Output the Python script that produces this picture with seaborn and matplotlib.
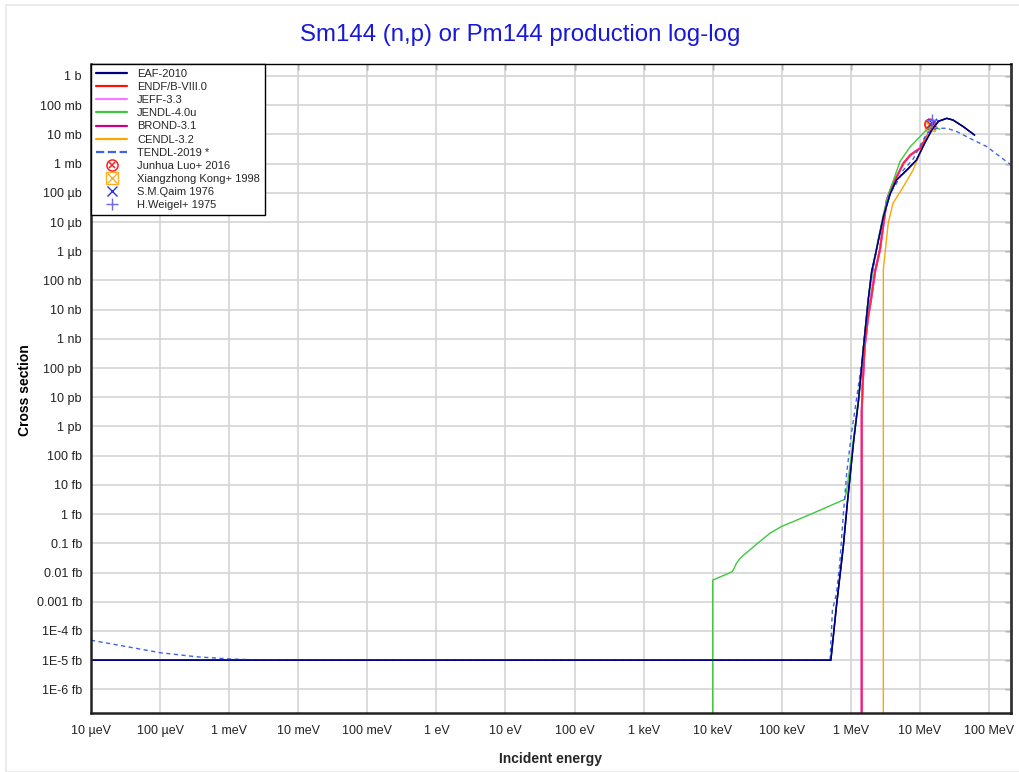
import matplotlib
matplotlib.use("Agg")
import matplotlib.pyplot as plt
from matplotlib.lines import Line2D
from matplotlib.patches import Rectangle
import seaborn as sns
import numpy as np
import pandas as pd

# ---------------- data (energies in eV, cross sections in barns) ----------------
eaf_E = [1e-5, 5.13e5, 6.17e5, 7.76e5, 8.91e5, 1.10e6, 1.29e6, 1.51e6, 1.78e6, 2.0e6,
         2.34e6, 2.95e6, 3.72e6, 4.57e6, 6.46e6, 8.91e6, 1.17e7, 1.48e7, 1.86e7, 2.45e7,
         3.02e7, 4.27e7, 6.17e7]
eaf_sigma = [1e-20, 1e-20, 6.8e-19, 7.6e-17, 2.5e-15, 3.4e-13, 7.9e-12, 4.2e-10, 2.1e-8, 2.0e-7,
             1.1e-6, 1.5e-5, 9.5e-5, 2.75e-4, 6.0e-4, 1.32e-3, 5.0e-3, 0.0141, 0.0282, 0.0355,
             0.0309, 0.0182, 9.5e-3]

endf_E = [1.435e6, 1.436e6, 1.48e6, 1.585e6, 1.78e6, 1.95e6, 2.24e6, 2.63e6, 3.31e6, 3.89e6,
          4.90e6, 5.75e6, 7.24e6, 8.51e6, 1.0e7, 1.26e7, 1.41e7, 1.58e7]
endf_sigma = [1e-30, 3.2e-12, 2.5e-11, 5.4e-10, 5.8e-9, 2.1e-8, 2.0e-7, 1.1e-6, 5.6e-5, 1.62e-4,
              4.7e-4, 1.02e-3, 1.95e-3, 2.57e-3, 3.3e-3, 8.3e-3, 0.0141, 0.0191]

# JEFF-3.3 and BROND-3.1 coincide with ENDF/B-VIII.0 on this scale
jeff_E, jeff_sigma = endf_E, endf_sigma
brond_E, brond_sigma = endf_E, endf_sigma

jendl_E = [1e4, 1.0001e4, 1.9e4, 2.0e4, 2.19e4, 2.45e4, 2.88e4, 3.47e4, 4.47e4, 6.76e4,
           1.0e5, 1.48e5, 3.16e5, 8.13e5, 8.71e5, 1.10e6, 1.29e6, 1.51e6, 1.78e6, 2.34e6,
           2.95e6, 3.31e6, 3.89e6, 5.13e6, 7.24e6, 1.17e7, 1.41e7, 1.95e7]
jendl_sigma = [1e-30, 5.5e-18, 1.05e-17, 1.26e-17, 2.0e-17, 2.9e-17, 4.2e-17, 6.0e-17, 1.0e-16, 2.24e-16,
               3.8e-16, 5.6e-16, 1.2e-15, 3.2e-15, 6.6e-15, 4.0e-13, 8.9e-12, 4.5e-10, 2.2e-8, 1.26e-6,
               1.8e-5, 5.6e-5, 1.78e-4, 1.17e-3, 3.8e-3, 0.0123, 0.0178, 0.0151]

cendl_E = [2.95e6, 2.951e6, 3.16e6, 3.47e6, 4.07e6, 5.75e6, 7.94e6, 1.05e7, 1.41e7, 1.78e7]
cendl_sigma = [1e-30, 2.5e-7, 1.1e-6, 9.1e-6, 4.4e-5, 1.62e-4, 6.0e-4, 2.95e-3, 0.0141, 0.0178]

tendl_E = [1e-5, 3.3e-5, 1e-4, 3.4e-4, 1e-3, 3.2e-3, 5.0e5, 5.4e5, 6.2e5, 6.9e5,
           7.8e5, 8.7e5, 1.02e6, 1.2e6, 1.45e6, 1.7e6, 2.0e6, 2.5e6, 3.47e6, 4.57e6,
           5.75e6, 7.94e6, 1.0e7, 1.26e7, 1.74e7, 2.45e7, 3.39e7, 5.25e7, 9.3e7, 2.09e8]
tendl_sigma = [4.8e-20, 2.9e-20, 1.8e-20, 1.3e-20, 1.1e-20, 1.0e-20, 1.0e-20, 5.0e-19, 2.0e-18, 2.0e-17,
               1.05e-15, 2.5e-14, 5.8e-13, 7.9e-12, 1.86e-10, 5.8e-9, 1.26e-7, 2.5e-6, 7.4e-5, 2.1e-4,
               6.0e-4, 1.41e-3, 4.0e-3, 0.011, 0.0162, 0.0162, 0.0126, 7.4e-3, 3.8e-3, 8.9e-4]

luo_E, luo_sigma = [1.40e7], [0.022]
kong_E, kong_sigma = [1.41e7], [0.020]
qaim_E, qaim_sigma = [1.47e7], [0.025]
weigel_E, weigel_sigma = [1.48e7], [0.031]

x_tick_values = [1e-5, 1e-4, 1e-3, 1e-2, 1e-1, 1e0, 1e1, 1e2, 1e3, 1e4, 1e5, 1e6, 1e7, 1e8]
x_tick_labels = ["10 µeV", "100 µeV", "1 meV", "10 meV", "100 meV", "1 eV", "10 eV",
                 "100 eV", "1 keV", "10 keV", "100 keV", "1 MeV", "10 MeV", "100 MeV"]
y_tick_values = [1e0, 1e-1, 1e-2, 1e-3, 1e-4, 1e-5, 1e-6, 1e-7, 1e-8, 1e-9, 1e-10,
                 1e-11, 1e-12, 1e-13, 1e-14, 1e-15, 1e-16, 1e-17, 1e-18, 1e-19, 1e-20, 1e-21]
y_tick_labels = ["1 b", "100 mb", "10 mb", "1 mb", "100 µb", "10 µb", "1 µb", "100 nb",
                 "10 nb", "1 nb", "100 pb", "10 pb", "1 pb", "100 fb", "10 fb", "1 fb",
                 "0.1 fb", "0.01 fb", "0.001 fb", "1E-4 fb", "1E-5 fb", "1E-6 fb"]

title = "Sm144 (n,p) or Pm144 production log-log"

# ---------------- styling ----------------
sns.set_style("white")
plt.rcParams['font.family'] = ['Liberation Sans', 'DejaVu Sans']

fig = plt.figure(figsize=(10.2, 7.72), dpi=100)
fig.add_artist(Rectangle((6 / 1020, 0), 1.0, 1 - 5 / 772, transform=fig.transFigure,
                         fill=False, edgecolor='#e8e8e8', linewidth=1.2))
ax = fig.add_axes([91 / 1020, 1 - 713 / 772, (1011 - 91) / 1020, (713 - 64) / 772])
ax.set_xscale('log')
ax.set_yscale('log')

series = [
    ("EAF-2010", eaf_E, eaf_sigma, '#00007f', '-', 1.1),
    ("BROND-3.1", brond_E, brond_sigma, '#c8008c', '-', 1.5),
    ("JEFF-3.3", jeff_E, jeff_sigma, '#ff77ff', '-', 1.5),
    ("ENDF/B-VIII.0", endf_E, endf_sigma, '#ff1010', '-', 1.3),
    ("JENDL-4.0u", jendl_E, jendl_sigma, '#3ec83e', '-', 1.0),
    ("CENDL-3.2", cendl_E, cendl_sigma, '#ffa500', '-', 1.0),
    ("TENDL-2019 *", tendl_E, tendl_sigma, '#3c64e6', (0, (3, 2.5)), 1.0),
]
alphas = {"ENDF/B-VIII.0": 0.8}
for name, E, s, c, ls, lw in series:
    df = pd.DataFrame({"E": E, "sigma": s})
    sns.lineplot(data=df, x="E", y="sigma", ax=ax, color=c, linestyle=ls, linewidth=lw,
                 estimator=None, sort=False, alpha=alphas.get(name, 1.0), legend=False)
# EAF drawn again on top
sns.lineplot(x=eaf_E, y=eaf_sigma, ax=ax, color='#00007f', linewidth=1.1,
             estimator=None, sort=False, legend=False)

# experimental points
sns.scatterplot(x=kong_E, y=kong_sigma, ax=ax, marker='s', s=55, facecolor='none',
                edgecolor='#ffb020', linewidth=1.0, legend=False)
sns.scatterplot(x=kong_E, y=kong_sigma, ax=ax, marker='x', s=40, color='#ffb020',
                linewidth=1.0, legend=False)
sns.scatterplot(x=luo_E, y=luo_sigma, ax=ax, marker='o', s=55, facecolor='none',
                edgecolor='#ff2020', linewidth=1.2, legend=False)
sns.scatterplot(x=luo_E, y=luo_sigma, ax=ax, marker='x', s=28, color='#ff2020',
                linewidth=1.2, legend=False)
sns.scatterplot(x=qaim_E, y=qaim_sigma, ax=ax, marker='x', s=45, color='#3030e0',
                linewidth=1.0, legend=False)
sns.scatterplot(x=weigel_E, y=weigel_sigma, ax=ax, marker='+', s=70, color='#6a6af0',
                linewidth=1.0, legend=False)

ax.set_xlim(1e-5, 2.08e8)
ax.set_ylim(1.55e-22, 2.57)

ax.set_xticks(x_tick_values)
ax.set_xticklabels(x_tick_labels)
ax.set_yticks(y_tick_values)
ax.set_yticklabels(y_tick_labels)
ax.minorticks_off()
ax.grid(True, which='major', color='#d4d4d4', linewidth=1.2)
ax.set_axisbelow(True)
ax.tick_params(axis='both', which='major', labelsize=9, colors='#222222',
               direction='inout', length=9, width=1.3, labelcolor='#222222')
ax.tick_params(axis='x', pad=4)
ax.tick_params(axis='y', pad=2)

# top/right inward short ticks
axt = ax.secondary_xaxis('top')
axt.set_xticks(x_tick_values)
axt.tick_params(direction='in', length=4, width=1.0, labeltop=False, colors='#333333')
axt.set_xticklabels([])
axr = ax.secondary_yaxis('right')
axr.set_yticks(y_tick_values)
axr.tick_params(direction='in', length=4, width=1.0, labelright=False, colors='#333333')
axr.set_yticklabels([])
for sp in axt.spines.values():
    sp.set_visible(False)
for sp in axr.spines.values():
    sp.set_visible(False)

for side, sp in ax.spines.items():
    sp.set_visible(True)
    sp.set_color('#222222')
ax.spines['left'].set_linewidth(1.8)
ax.spines['bottom'].set_linewidth(1.8)
ax.spines['top'].set_linewidth(1.0)
ax.spines['top'].set_color('#000000')
ax.spines['right'].set_linewidth(2.0)
ax.spines['right'].set_color('#333333')

ax.set_xlabel("Incident energy", fontsize=10, fontweight='bold', labelpad=11)
ax.set_ylabel("")
fig.text(25 / 1020, 1 - 390 / 772, "Cross section", rotation=90, ha='center', va='center',
         fontsize=10, fontweight='bold', color='#000000')

fig.text(520 / 1020, 1 - 35 / 772, title, ha='center', va='center',
         color='#1818d8', fontsize=17.3)

# legend
legend_order = [
    ("EAF-2010", '#00007f', '-'),
    ("ENDF/B-VIII.0", '#ff1010', '-'),
    ("JEFF-3.3", '#ff77ff', '-'),
    ("JENDL-4.0u", '#3ec83e', '-'),
    ("BROND-3.1", '#c8008c', '-'),
    ("CENDL-3.2", '#ffa500', '-'),
    ("TENDL-2019 *", '#3c64e6', '--'),
]
handles, labels = [], []
for name, c, ls in legend_order:
    handles.append(Line2D([], [], color=c, linestyle=ls, linewidth=1.6))
    labels.append(name)
h_luo = (Line2D([], [], linestyle='none', marker='o', markersize=8, markerfacecolor='none',
                markeredgecolor='#ff2020', markeredgewidth=1.1),
         Line2D([], [], linestyle='none', marker='x', markersize=5, color='#ff2020',
                markeredgewidth=1.1))
h_kong = (Line2D([], [], linestyle='none', marker='s', markersize=8, markerfacecolor='none',
                 markeredgecolor='#ffb020', markeredgewidth=1.0),
          Line2D([], [], linestyle='none', marker='x', markersize=7, color='#ffb020',
                 markeredgewidth=1.0))
h_qaim = Line2D([], [], linestyle='none', marker='x', markersize=7, color='#3030e0',
                markeredgewidth=1.0)
h_weigel = Line2D([], [], linestyle='none', marker='+', markersize=9, color='#6a6af0',
                  markeredgewidth=1.0)
handles += [h_luo, h_kong, h_qaim, h_weigel]
labels += ["Junhua Luo+ 2016", "Xiangzhong Kong+ 1998", "S.M.Qaim 1976", "H.Weigel+ 1975"]

leg = ax.legend(handles, labels, loc='upper left', bbox_to_anchor=(0, 1), borderaxespad=0,
                frameon=True, fancybox=False, fontsize=8, handlelength=2.8,
                handletextpad=0.9, labelspacing=0.28, borderpad=0.45)
leg.get_frame().set_edgecolor('black')
leg.get_frame().set_linewidth(1.0)
leg.get_frame().set_alpha(1.0)
leg.set_zorder(10)

fig.savefig("out.png", dpi=100)
